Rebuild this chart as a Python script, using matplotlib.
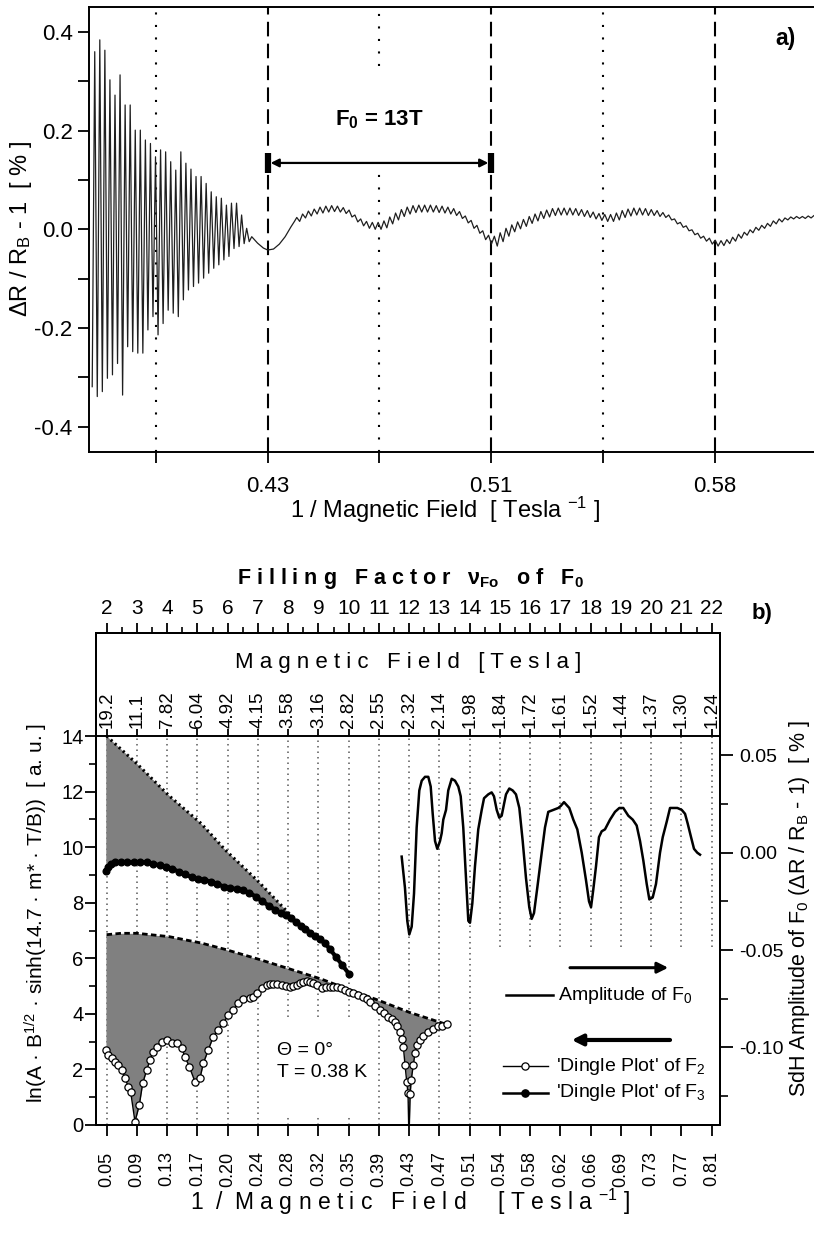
import numpy as np
import matplotlib
matplotlib.use("Agg")
import matplotlib.pyplot as plt
from matplotlib import font_manager

# ---------------- data ----------------
# panel a) : dR/R_B - 1 [%] vs 1/B, dense SdH part (alternating extremes)
a_dense_start, a_dense_stop = 0.3696, 0.4245
a_dense = [-0.319, 0.360, -0.339, 0.384, -0.329, 0.363, -0.302, 0.303, -0.295, 0.272,
           -0.272, 0.313, -0.336, 0.252, -0.238, 0.252, -0.248, 0.201, -0.251, 0.201,
           -0.251, 0.181, -0.204, 0.174, -0.177, 0.147, -0.214, 0.161, -0.191, 0.157,
           -0.164, 0.137, -0.170, 0.120, -0.177, 0.157, -0.143, 0.134, -0.123, 0.122,
           -0.116, 0.107, -0.109, 0.107, -0.099, 0.093, -0.089, 0.076, -0.079, 0.066,
           -0.072, 0.063, -0.062, 0.049, -0.055, 0.053, -0.039, 0.053, -0.035, 0.029,
           -0.029, 0.002, -0.025, -0.015]
a_bridge_x = [0.4265, 0.4285, 0.4300, 0.4320, 0.4340, 0.4360, 0.4380, 0.4392]
a_bridge_y = [-0.028, -0.038, -0.042, -0.040, -0.030, -0.015, 0.005, 0.016]
# small fast ripples riding on the F0 oscillation
a_ripple_start, a_ripple_stop = 0.4400, 0.6190
a_ripple = [0.024, 0.016, 0.031, 0.023, 0.037, 0.027, 0.041, 0.031, 0.045, 0.033,
            0.047, 0.035, 0.048, 0.036, 0.047, 0.035, 0.044, 0.032, 0.039, 0.025,
            0.029, 0.015, 0.021, 0.007, 0.016, 0.002, 0.014, 0.000, 0.014, 0.000,
            0.017, 0.003, 0.025, 0.011, 0.033, 0.019, 0.040, 0.026, 0.045, 0.031,
            0.048, 0.034, 0.049, 0.035, 0.049, 0.035, 0.049, 0.035, 0.048, 0.034,
            0.047, 0.033, 0.045, 0.031, 0.042, 0.028, 0.036, 0.022, 0.027, 0.013,
            0.018, 0.002, 0.008, -0.008, -0.003, -0.021, -0.012, -0.030, -0.014, -0.034,
            -0.007, -0.025, 0.002, -0.014, 0.009, -0.005, 0.015, 0.001, 0.020, 0.006,
            0.026, 0.012, 0.031, 0.017, 0.036, 0.022, 0.039, 0.025, 0.042, 0.028,
            0.043, 0.029, 0.043, 0.029, 0.043, 0.029, 0.042, 0.028, 0.040, 0.026,
            0.038, 0.024, 0.035, 0.021, 0.032, 0.018, 0.030, 0.016, 0.030, 0.016,
            0.033, 0.019, 0.038, 0.024, 0.041, 0.027, 0.043, 0.029, 0.043, 0.029,
            0.042, 0.028, 0.040, 0.028, 0.038, 0.026, 0.034, 0.024, 0.029, 0.019,
            0.021, 0.011, 0.014, 0.004, 0.007, -0.003, -0.001, -0.011, -0.008, -0.018,
            -0.014, -0.024, -0.018, -0.030, -0.022, -0.034, -0.023, -0.033, -0.021, -0.029,
            -0.016, -0.024, -0.010, -0.018, -0.006, -0.012, -0.001, -0.007, 0.004, -0.002,
            0.008, 0.002, 0.012, 0.006, 0.017, 0.011, 0.021, 0.015, 0.023, 0.019,
            0.025, 0.021, 0.026, 0.022, 0.026, 0.022, 0.027, 0.023, 0.028, 0.024]
a_first_major = 0.4300
f0_period = 1 / 13.0
a_major_labels = ['0.43', '0.51', '0.58']
a_ytick_labels = ['-0.4', '-0.2', '0.0', '0.2', '0.4']

# panel b) axes labels
nu_labels = [str(n) for n in range(2, 23)]
b_labels = ['19.2', '11.1', '7.82', '6.04', '4.92', '4.15', '3.58', '3.16', '2.82', '2.55', '2.32',
            '2.14', '1.98', '1.84', '1.72', '1.61', '1.52', '1.44', '1.37', '1.30', '1.24']
invb_labels = ['0.05', '0.09', '0.13', '0.17', '0.20', '0.24', '0.28', '0.32', '0.35', '0.39', '0.43',
               '0.47', '0.51', '0.54', '0.58', '0.62', '0.66', '0.69', '0.73', '0.77', '0.81']

# 'Dingle Plot' of F2 (open circles)
f2_x = [0.0512, 0.0541, 0.0583, 0.0624, 0.0666, 0.0708, 0.0749, 0.0791, 0.0820, 0.0874,
        0.0928, 0.0970, 0.1020, 0.1061, 0.1102, 0.1144, 0.1207, 0.1269, 0.1331, 0.1394,
        0.1456, 0.1497, 0.1551, 0.1622, 0.1684, 0.1726, 0.1788, 0.1850, 0.1913, 0.1975,
        0.2037, 0.2100, 0.2162, 0.2224, 0.2308, 0.2350, 0.2391, 0.2453, 0.2516, 0.2557,
        0.2598, 0.2650, 0.2703, 0.2755, 0.2806, 0.2848, 0.2890, 0.2931, 0.2972, 0.3014,
        0.3056, 0.3098, 0.3139, 0.3202, 0.3254, 0.3305, 0.3347, 0.3389, 0.3440, 0.3492,
        0.3544, 0.3596, 0.3658, 0.3721, 0.3763, 0.3804, 0.3867, 0.3929, 0.3980, 0.4032,
        0.4074, 0.4116, 0.4147, 0.4178, 0.4199, 0.4220, 0.4241, 0.4262, 0.4278, 0.4290,
        0.4305, 0.4318, 0.4344, 0.4365, 0.4394, 0.4427, 0.4469, 0.4531, 0.4593, 0.4656,
        0.4698, 0.4760]
f2_y = [2.70, 2.52, 2.40, 2.28, 2.16, 1.98, 1.68, 1.38, 1.20, 0.12,
        0.72, 1.50, 1.98, 2.34, 2.64, 2.82, 3.00, 3.06, 2.96, 2.94,
        2.76, 2.46, 2.10, 1.56, 1.68, 2.22, 2.70, 3.18, 3.42, 3.66,
        3.96, 4.14, 4.38, 4.52, 4.56, 4.62, 4.74, 4.92, 5.04, 5.07,
        5.07, 5.06, 5.04, 5.00, 4.98, 5.00, 5.04, 5.10, 5.16, 5.17,
        5.16, 5.12, 5.04, 4.92, 4.95, 4.98, 4.98, 4.98, 4.93, 4.86,
        4.80, 4.74, 4.68, 4.62, 4.55, 4.44, 4.30, 4.14, 4.02, 3.90,
        3.82, 3.72, 3.55, 3.36, 3.10, 2.82, 2.16, 1.56, 1.15, -0.50,
        1.10, 1.62, 2.16, 2.58, 2.88, 3.06, 3.20, 3.35, 3.45, 3.55,
        3.58, 3.65]
# 'Dingle Plot' of F3 (filled dots)
f3_x = [0.0510, 0.0540, 0.0580, 0.0630, 0.0700, 0.0780, 0.0860, 0.0940, 0.1020, 0.1100,
        0.1180, 0.1260, 0.1340, 0.1420, 0.1500, 0.1580, 0.1660, 0.1740, 0.1820, 0.1900,
        0.1980, 0.2060, 0.2140, 0.2220, 0.2300, 0.2380, 0.2460, 0.2540, 0.2620, 0.2700,
        0.2760, 0.2820, 0.2880, 0.2940, 0.3000, 0.3060, 0.3120, 0.3180, 0.3240, 0.3300,
        0.3380, 0.3460, 0.3540]
f3_y = [9.15, 9.30, 9.40, 9.45, 9.47, 9.45, 9.45, 9.47, 9.45, 9.40,
        9.35, 9.30, 9.22, 9.12, 9.02, 8.92, 8.85, 8.82, 8.76, 8.68,
        8.58, 8.52, 8.50, 8.45, 8.36, 8.22, 8.05, 7.90, 7.75, 7.62,
        7.55, 7.45, 7.30, 7.18, 7.05, 6.92, 6.80, 6.70, 6.55, 6.35,
        6.05, 5.75, 5.45]
# envelopes (dotted for F3, dashed for F2)
env3_x = [0.0521, 0.090, 0.130, 0.170, 0.200, 0.240, 0.285]
env3_y = [14.0, 13.0, 11.85, 10.85, 9.90, 8.80, 7.45]
env2_x = [0.052, 0.070, 0.090, 0.130, 0.170, 0.200, 0.240, 0.280, 0.320, 0.350, 0.390, 0.430, 0.476]
env2_y = [6.85, 6.90, 6.90, 6.78, 6.55, 6.32, 5.98, 5.62, 5.25, 4.92, 4.50, 4.05, 3.62]

# SdH amplitude of F0 (right axis)
sdh_x = [0.4199, 0.4240, 0.4269, 0.4294, 0.4324, 0.4353, 0.4386, 0.4419, 0.4449, 0.4490,
         0.4531, 0.4561, 0.4586, 0.4615, 0.4643, 0.4677, 0.4698, 0.4718, 0.4752, 0.4780,
         0.4823, 0.4864, 0.4905, 0.4935, 0.4967, 0.5001, 0.5030, 0.5051, 0.5080, 0.5113,
         0.5154, 0.5197, 0.5226, 0.5279, 0.5321, 0.5350, 0.5384, 0.5416, 0.5446, 0.5475,
         0.5500, 0.5541, 0.5583, 0.5624, 0.5666, 0.5708, 0.5749, 0.5790, 0.5820, 0.5849,
         0.5890, 0.5945, 0.5986, 0.6027, 0.6090, 0.6152, 0.6182, 0.6223, 0.6289, 0.6339,
         0.6389, 0.6444, 0.6497, 0.6535, 0.6560, 0.6588, 0.6622, 0.6659, 0.6693, 0.6734,
         0.6797, 0.6859, 0.6913, 0.6962, 0.7025, 0.7080, 0.7129, 0.7171, 0.7212, 0.7254,
         0.7287, 0.7329, 0.7370, 0.7420, 0.7454, 0.7504, 0.7545, 0.7586, 0.7636, 0.7691,
         0.7732, 0.7765, 0.7807, 0.7844, 0.7885, 0.7919]
sdh_y = [-0.002, -0.018, -0.035, -0.042, -0.038, -0.021, 0.013, 0.032, 0.037, 0.039,
         0.039, 0.034, 0.020, 0.006, 0.002, 0.006, 0.010, 0.017, 0.022, 0.032,
         0.038, 0.037, 0.034, 0.029, 0.013, -0.013, -0.035, -0.036, -0.026, -0.007,
         0.012, 0.022, 0.028, 0.030, 0.031, 0.029, 0.022, 0.018, 0.019, 0.025,
         0.030, 0.033, 0.032, 0.030, 0.023, 0.006, -0.013, -0.028, -0.034, -0.031,
         -0.018, 0.000, 0.013, 0.021, 0.022, 0.023, 0.024, 0.026, 0.023, 0.017,
         0.012, 0.000, -0.014, -0.025, -0.028, -0.019, -0.007, 0.008, 0.011, 0.012,
         0.017, 0.021, 0.023, 0.023, 0.019, 0.017, 0.014, 0.006, -0.004, -0.016,
         -0.024, -0.023, -0.016, 0.000, 0.008, 0.016, 0.023, 0.023, 0.023, 0.022,
         0.020, 0.015, 0.008, 0.002, 0.000, -0.001]

# ---------------- style ----------------
plt.rcParams['font.family'] = ['Liberation Sans', 'DejaVu Sans']
plt.rcParams['mathtext.fontset'] = 'custom'
plt.rcParams['mathtext.rm'] = 'Liberation Sans'
plt.rcParams['mathtext.it'] = 'Liberation Sans:italic'
plt.rcParams['mathtext.bf'] = 'Liberation Sans:bold'
plt.rcParams['axes.linewidth'] = 1.4

installed = {f.name for f in font_manager.fontManager.ttflist}
if 'Liberation Sans Narrow' in installed:
    NARROW = ['Liberation Sans Narrow', 'DejaVu Sans']
else:
    NARROW = ['Liberation Sans', 'DejaVu Sans']

W, H = 814, 1243
fig = plt.figure(figsize=(W / 100, H / 100), dpi=100)


def spaced(s):
    # letter spacing like the original typesetting
    return '   '.join(' '.join(w) for w in s.split(' '))


# ================= panel a =================
ax_a = fig.add_axes([89.3 / W, 1 - 452 / H, (W - 89.3) / W, 445 / H])
xa = np.concatenate([np.linspace(a_dense_start, a_dense_stop, len(a_dense)),
                     a_bridge_x,
                     np.linspace(a_ripple_start, a_ripple_stop, len(a_ripple))])
ya = np.concatenate([a_dense, a_bridge_y, a_ripple])
ax_a.plot(xa, ya, color='0.12', lw=0.9, zorder=3)
ax_a.set_xlim(0.3686, 0.618)
ax_a.set_ylim(-0.4514, 0.4506)

a_major = [a_first_major + k * f0_period for k in range(3)]
a_minor = [a_first_major + (k - 0.5) * f0_period for k in range(3)]
for xv in a_major:
    ax_a.axvline(xv, color='k', lw=1.5, ls=(0, (7, 3.5)), zorder=2)
for k, xv in enumerate(a_minor):
    if k == 1:
        ax_a.plot([xv, xv], [0.33, 0.4506], color='k', lw=1.5, ls=(0, (1, 5)), zorder=2)
        ax_a.plot([xv, xv], [-0.4514, 0.125], color='k', lw=1.5, ls=(0, (1, 5)), zorder=2)
    else:
        ax_a.axvline(xv, color='k', lw=1.5, ls=(0, (1, 5)), zorder=2)

# F0 period marker
ya_arrow = 0.1345
ax_a.annotate('', xy=(a_major[0] + 0.0010, ya_arrow), xytext=(a_major[1] - 0.0010, ya_arrow),
              arrowprops=dict(arrowstyle='<|-|>', lw=1.6, color='k', mutation_scale=12,
                              shrinkA=0, shrinkB=0), zorder=4)
for xv in a_major[:2]:
    ax_a.plot([xv, xv], [0.114, 0.155], color='k', lw=4.5, solid_capstyle='butt', zorder=4)
ax_a.text(0.5 * (a_major[0] + a_major[1]), 0.222, r'F$_\mathbf{0}$ = 13T', ha='center', va='center',
          fontsize=16, fontweight='bold', family=NARROW)

ax_a.set_xticks(a_major)
ax_a.set_xticklabels(a_major_labels)
ax_a.set_xticks(a_minor, minor=True)
ax_a.set_yticks([-0.4, -0.2, 0.0, 0.2, 0.4])
ax_a.set_yticklabels(a_ytick_labels)
ax_a.set_yticks([-0.3, -0.1, 0.1, 0.3], minor=True)
ax_a.tick_params(which='both', direction='out', length=8, width=1.3)
ax_a.tick_params(axis='x', which='both', pad=9, labelsize=16)
ax_a.tick_params(axis='y', which='both', pad=4, labelsize=16)
for lab in ax_a.get_xticklabels() + ax_a.get_yticklabels():
    lab.set_family(NARROW)
ax_a.spines['right'].set_visible(False)

fig.text(21 / W, 1 - 229 / H, r'ΔR / R$_\mathrm{B}$ - 1  [ % ]', rotation=90,
         ha='center', va='center', fontsize=17)
fig.text(445 / W, 1 - 510 / H, r'1 / Magnetic Field  [ Tesla $^\mathrm{-1}$ ]',
         ha='center', va='center', fontsize=17, family=NARROW)
fig.text(786 / W, 1 - 38 / H, 'a)', ha='center', va='center', fontsize=16.5, fontweight='bold')

# ================= panel b =================
ax_b = fig.add_axes([96 / W, 1 - 1125 / H, 624 / W, 492 / H])
ax_b.set_xlim(0.0388, 0.8168)
ax_b.set_ylim(0, 17.71)
x_ticks = 0.0521 + 0.03772 * np.arange(len(nu_labels))

# dotted guide lines at every tick
grid_low = [0, 0, 0, 0, 0, 0, 3.9, 3.9, 3.9, 0, 0, 0, 0] + [6.4] * 8
dot_style = dict(color='0.35', lw=1.1, ls=(0, (1, 2.6)), zorder=1)
for xv, lo in zip(x_ticks, grid_low):
    ax_b.plot([xv, xv], [lo, 14], **dot_style)
for xv in x_ticks[6:9]:
    ax_b.plot([xv, xv], [0, 0.3], **dot_style)

f2x, f2y = np.array(f2_x), np.array(f2_y)
f3x, f3y = np.array(f3_x), np.array(f3_y)
env2_on_f2 = np.interp(f2x, env2_x, env2_y)
ax_b.fill_between(f2x, f2y, env2_on_f2, where=env2_on_f2 >= f2y, interpolate=True,
                  color='0.5', lw=0, zorder=2)
inside = f3x <= env3_x[-1]
env3_on_f3 = np.interp(f3x[inside], env3_x, env3_y)
ax_b.fill_between(f3x[inside], f3y[inside], env3_on_f3, color='0.5', lw=0, zorder=2)
ax_b.plot(env3_x, env3_y, color='k', lw=2.2, ls=(0, (0.7, 1.1)), zorder=3)
ax_b.plot(env2_x, env2_y, color='k', lw=2.0, ls=(0, (2.0, 1.2)), zorder=3)
ax_b.plot(f3x, f3y, color='k', lw=3.0, marker='o', ms=4.8, zorder=4)
ax_b.plot(f2x, f2y, color='k', lw=1.0, marker='o', ms=5.2, mfc='white', mec='k', mew=0.9, zorder=5)

# magnetic field scale drawn on the y = 14 line
ax_b.axhline(14, color='k', lw=1.4, zorder=3)
ax_b.vlines(x_ticks, 14, 14.25, color='k', lw=1.3)
for xv, lab in zip(x_ticks, b_labels):
    ax_b.text(xv, 14.3, lab, rotation=90, ha='center', va='bottom', fontsize=13.5)
ax_b.text(0.5 * (0.0388 + 0.8168), 16.66, spaced('Magnetic Field [Tesla]'),
          ha='center', va='center', fontsize=16)

ax_b.text(0.29, 0.1524, 'Θ = 0°', transform=ax_b.transAxes, fontsize=14, va='center')
ax_b.text(0.29, 0.1057, 'T = 0.38 K', transform=ax_b.transAxes, fontsize=14, va='center')

ax_b.set_xticks(x_ticks)
ax_b.set_xticklabels(invb_labels, rotation=90)
ax_b.tick_params(axis='x', direction='out', length=8, width=1.3, pad=11, labelsize=13)
ax_b.set_yticks(range(0, 15, 2))
ax_b.set_yticks(range(1, 14, 2), minor=True)
ax_b.tick_params(axis='y', which='major', direction='out', length=8, width=1.3, pad=1, labelsize=14.5)
ax_b.tick_params(axis='y', which='minor', direction='out', length=5, width=1.2)

# top axis: filling factor
ax_t = ax_b.twiny()
ax_t.set_xlim(ax_b.get_xlim())
ax_t.set_xticks(x_ticks)
ax_t.set_xticklabels(nu_labels)
ax_t.set_xticks(x_ticks[:-1] + 0.5 * 0.03772, minor=True)
ax_t.tick_params(axis='x', which='major', direction='out', length=7, width=1.3, pad=4, labelsize=15)
ax_t.tick_params(axis='x', which='minor', direction='out', length=4, width=1.2)
for lab in ax_t.get_xticklabels():
    lab.set_family(NARROW)

# right axis: SdH amplitude
ax_r = ax_b.twinx()
ax_r.set_ylim(-0.1399, 0.1129)
ax_r.plot(sdh_x, sdh_y, color='k', lw=1.8, zorder=4)
ax_r.set_yticks([0.05, 0.0, -0.05, -0.10])
ax_r.set_yticklabels(['0.05', '0.00', '-0.05', '-0.10'])
ax_r.set_yticks([0.025, -0.025, -0.075, -0.125], minor=True)
ax_r.tick_params(axis='y', which='major', direction='out', length=9, width=1.3, pad=5, labelsize=14)
ax_r.tick_params(axis='y', which='minor', direction='out', length=6, width=1.2)

# legend drawn by hand
T = ax_r.transAxes
ax_r.annotate('', xy=(0.917, 0.3197), xytext=(0.7596, 0.3197), xycoords=T,
              arrowprops=dict(arrowstyle='-|>', lw=2.2, color='k', mutation_scale=16,
                              shrinkA=0, shrinkB=0))
ax_r.plot([0.657, 0.732], [0.2642, 0.2642], color='k', lw=1.8, transform=T)
ax_r.text(0.740, 0.2642, r'Amplitude of F$_\mathrm{0}$', transform=T, va='center', fontsize=14)
ax_r.annotate('', xy=(0.7623, 0.1728), xytext=(0.9199, 0.1728), xycoords=T,
              arrowprops=dict(arrowstyle='-|>', lw=3.0, color='k', mutation_scale=16,
                              shrinkA=0, shrinkB=0))
ax_r.plot([0.6518, 0.7248], [0.1199, 0.1199], color='k', lw=1.0, transform=T)
ax_r.plot([0.688], [0.1199], marker='o', ms=5.2, mfc='white', mec='k', mew=0.9, transform=T)
ax_r.text(0.7372, 0.1199, r"'Dingle Plot' of F$_\mathrm{2}$", transform=T, va='center', fontsize=14)
ax_r.plot([0.6518, 0.7248], [0.0657, 0.0657], color='k', lw=1.8, transform=T)
ax_r.plot([0.688], [0.0657], marker='o', ms=5.2, color='k', transform=T)
ax_r.text(0.7372, 0.0657, r"'Dingle Plot' of F$_\mathrm{3}$", transform=T, va='center', fontsize=14)

fig.text(36 / W, 1 - 913 / H, r'ln(A · B$^\mathrm{1/2}$ · sinh(14.7 · m* · T/B))  [ a. u. ]',
         rotation=90, ha='center', va='center', fontsize=15)
fig.text(800 / W, 1 - 909 / H, r'SdH Amplitude of F$_\mathrm{0}$ (ΔR / R$_\mathrm{B}$ - 1)  [ % ]',
         rotation=90, ha='center', va='center', fontsize=15.5)
fig.text(410 / W, 1 - 1202 / H, '1  /  ' + spaced('Magnetic Field') + '     [ ' + ' '.join('Tesla')
         + r' $^\mathrm{-1}$ ]', ha='center', va='center', fontsize=16.5)
fig.text(410 / W, 1 - 578 / H, spaced('Filling Factor') + r'   ν$_\mathbf{Fo}$   '
         + ' '.join('of') + r'   F$_\mathbf{0}$', ha='center', va='center', fontsize=15.5,
         fontweight='bold')
fig.text(762 / W, 1 - 614 / H, 'b)', ha='center', va='center', fontsize=16, fontweight='bold')

fig.savefig('out.png', dpi=100)
